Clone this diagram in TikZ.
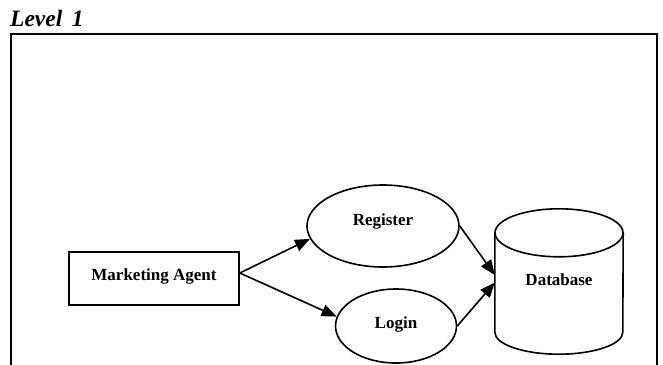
\documentclass[tikz,border=0pt]{standalone}
\usepackage{fontspec}
\setmainfont{Liberation Serif}
\usetikzlibrary{shapes.geometric,arrows.meta}
\begin{document}
\begin{tikzpicture}[x=1pt,y=-1pt,
  every node/.style={font=\fontsize{17}{20}\selectfont\bfseries},
  shape line/.style={line width=1.6pt},
  flow/.style={line width=1.6pt,-{Triangle[length=15pt,width=12pt]}},
  actor/.style={shape line,draw,rectangle,minimum width=170pt,minimum height=53pt,inner sep=0pt},
  process/.style={shape line,draw,ellipse,inner sep=0pt},
  store/.style={rectangle,minimum width=128pt,minimum height=99pt,inner sep=0pt},
  textmark/.style={anchor=base,inner sep=0pt},
]
\useasboundingbox (0,0) rectangle (663,364);
\fill[white] (0,0) rectangle (663,364);

% heading
\node[anchor=base west,inner sep=0pt,font=\fontsize{23.5}{28}\selectfont\bfseries\itshape]
  (title) at (10,27) {Level\hspace{0.4em}1};

% frame; its lower edge runs off the page
\draw[line width=2.8pt] (11,372) -- (11,34) -- (657,34) -- (657,372);

% external entity
\node[actor] (agent) at (154,278.5) {};
\node[textmark] (agentname) at (154,280) {Marketing Agent};

% processes
\node[process,minimum width=152pt,minimum height=82pt] (reg) at (383,226) {};
\node[textmark] (regname) at (383,225) {Register};
\node[process,minimum width=121pt,minimum height=74pt] (login) at (396,326) {};
\node[textmark] (loginname) at (396,328) {Login};

% data store drawn as a cylinder around a named box
\node[store] (db) at (559,282.5) {};
\draw[shape line] (db.north west) -- (db.south west)
  arc[start angle=180,end angle=360,x radius=64pt,y radius=22pt] -- (db.north east);
\draw[shape line] (db.north) ellipse[x radius=64pt,y radius=24pt];
\node[textmark] (dbname) at (559,285) {Database};

% data flows
\coordinate (src) at ([yshift=5.5pt]agent.east);
\draw[flow] (src) -- (reg.190);
\draw[flow] (src) -- (login.171);
\draw[flow] (reg.east) -- ([yshift=7.5pt]db.west);
\draw[flow] (login.east) -- (db.west);
\end{tikzpicture}
\end{document}
